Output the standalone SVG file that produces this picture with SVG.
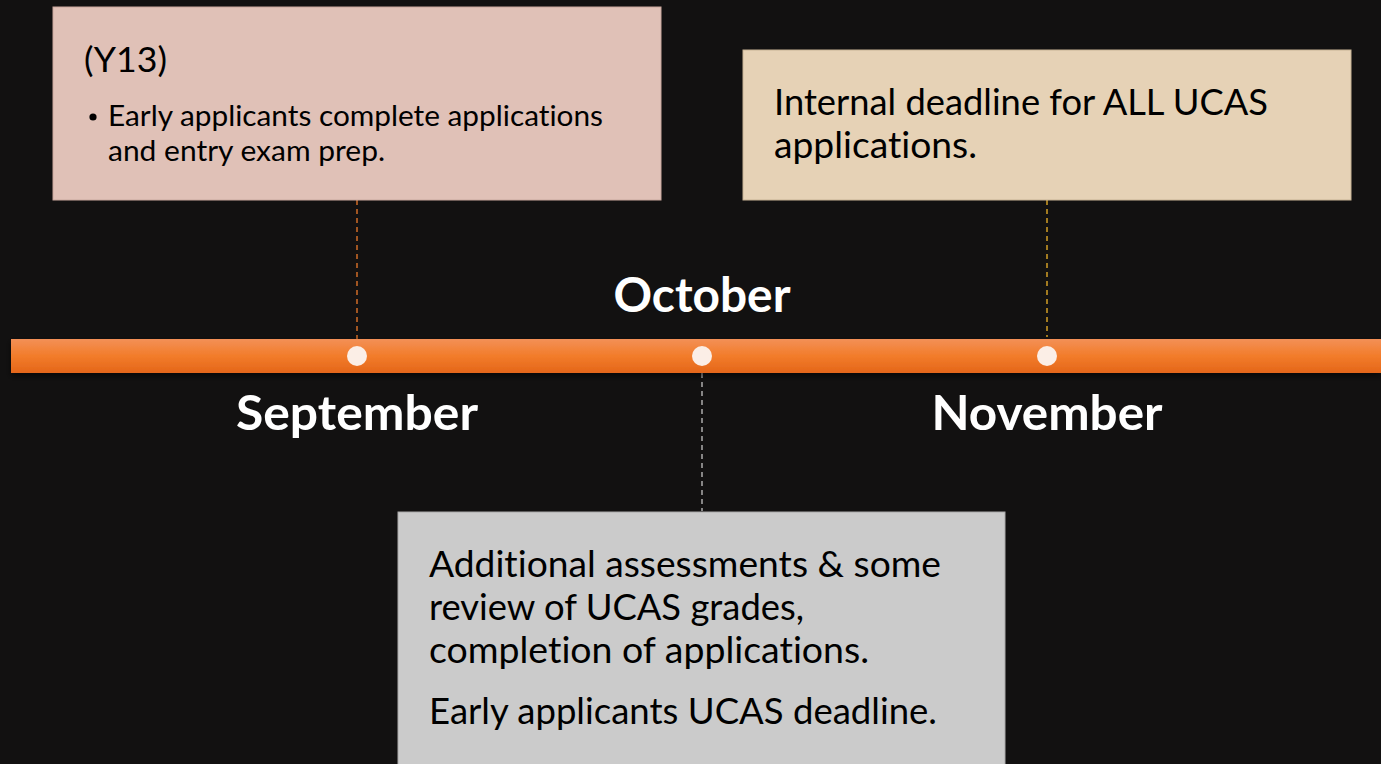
<svg xmlns="http://www.w3.org/2000/svg" width="1381" height="764" viewBox="0 0 1381 764">
<style>
text{font-variant-ligatures:none;font-feature-settings:"liga" 0,"dlig" 0}
.box text{font-family:Lato,"Open Sans","Liberation Sans",sans-serif;fill:#000}
.month{font-family:Lato,"Open Sans","Liberation Sans",sans-serif;font-weight:bold;font-size:48px;fill:#fff;text-anchor:middle}
.dot{fill:#fbeee6}
</style>
<defs>
<linearGradient id="bar" x1="0" y1="0" x2="0" y2="1">
<stop offset="0" stop-color="#f39057"/>
<stop offset="0.5" stop-color="#f27c2a"/>
<stop offset="1" stop-color="#e4661a"/>
</linearGradient>
<filter id="sh" x="-5%" y="-50%" width="110%" height="200%">
<feDropShadow dx="0" dy="3" stdDeviation="3" flood-color="#000" flood-opacity="0.6"/>
</filter>
</defs>
<rect width="1381" height="764" fill="#121111"/>
<g id="connectors" fill="none" stroke-width="1.3" stroke-dasharray="5,4">
<line x1="357" y1="200" x2="357" y2="339" stroke="#ec7a2c"/>
<line x1="1047" y1="200" x2="1047" y2="337" stroke="#efb52a"/>
<line x1="702" y1="373" x2="702" y2="511" stroke="#c4c4c4"/>
</g>
<g id="timeline">
<rect x="11" y="339" width="1370" height="34" fill="url(#bar)" filter="url(#sh)"/>
<circle class="dot" cx="357" cy="356" r="10"/>
<circle class="dot" cx="702" cy="356" r="10"/>
<circle class="dot" cx="1047" cy="356" r="10"/>
</g>
<g id="month-september"><text class="month" x="357" y="430" textLength="242" lengthAdjust="spacingAndGlyphs">September</text></g>
<g id="month-october"><text class="month" x="702" y="312" textLength="177" lengthAdjust="spacingAndGlyphs">October</text></g>
<g id="month-november"><text class="month" x="1047" y="430" textLength="231" lengthAdjust="spacingAndGlyphs">November</text></g>
<g id="box-september" class="box">
<rect x="53" y="7" width="608" height="193" fill="#e0c1b7" stroke="#c9a89e" stroke-width="1"/>
<text x="84" y="72" font-size="34" textLength="83" lengthAdjust="spacingAndGlyphs">(Y13)</text>
<circle cx="93" cy="117" r="3.6" fill="#000"/>
<text x="108" y="126" font-size="29" textLength="495" lengthAdjust="spacingAndGlyphs">Early applicants complete applications</text>
<text x="108" y="161" font-size="29" textLength="277" lengthAdjust="spacingAndGlyphs">and entry exam prep.</text>
</g>
<g id="box-november" class="box">
<rect x="743" y="50" width="608" height="150" fill="#e6d2b6" stroke="#c7b395" stroke-width="1"/>
<text x="774" y="115" font-size="36" textLength="494" lengthAdjust="spacingAndGlyphs">Internal deadline for ALL UCAS</text>
<text x="774" y="158" font-size="36" textLength="203" lengthAdjust="spacingAndGlyphs">applications.</text>
</g>
<g id="box-october" class="box">
<rect x="398" y="512" width="607" height="260" fill="#cbcbcb" stroke="#a9a9a9" stroke-width="1"/>
<text x="429" y="577" font-size="36" textLength="512" lengthAdjust="spacingAndGlyphs">Additional assessments &amp; some</text>
<text x="429" y="620" font-size="36" textLength="375" lengthAdjust="spacingAndGlyphs">review of UCAS grades,</text>
<text x="429" y="663" font-size="36" textLength="440" lengthAdjust="spacingAndGlyphs">completion of applications.</text>
<text x="429" y="724" font-size="36" textLength="508" lengthAdjust="spacingAndGlyphs">Early applicants UCAS deadline.</text>
</g>
</svg>
